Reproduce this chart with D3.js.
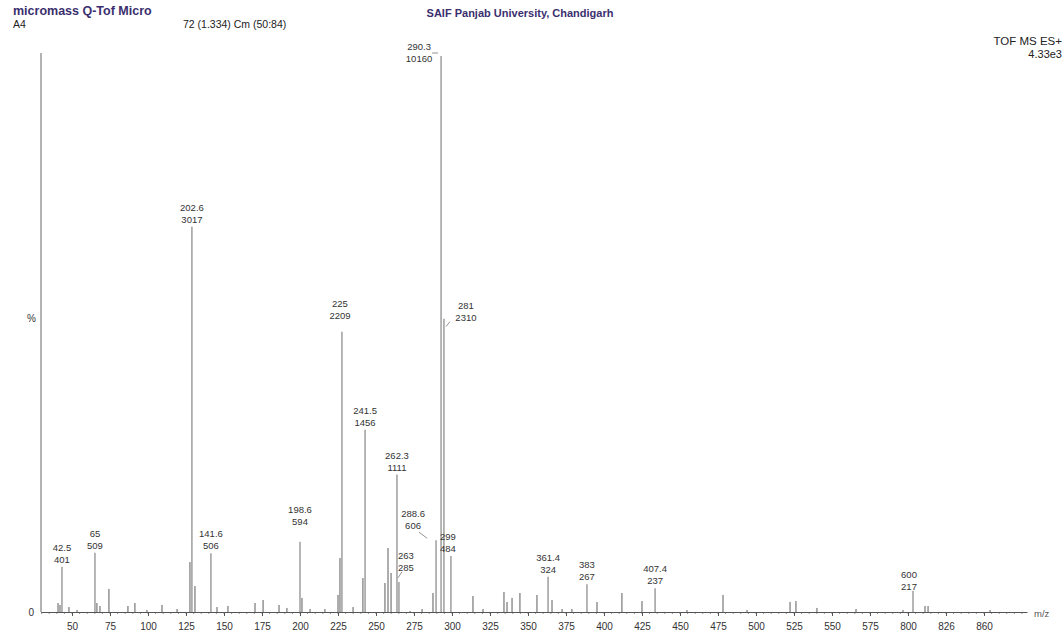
<!DOCTYPE html>
<html>
<head>
<meta charset="utf-8">
<script src="https://cdn.jsdelivr.net/npm/d3@7"></script>
<style>
	body { margin: 0; background: #fff; }
	svg { display: block; font-family: "Liberation Sans", Arial, sans-serif; }
</style>
</head>
<body>
<svg id="chart" width="1064" height="634"></svg>
<script>
/*********************
	Data
**********************/
// labelled peaks: position on the printed m/z axis, intensity (counts), printed label
var peakPos   = [43.4, 65.1, 128.9, 141.4, 200.0, 227.6, 242.8, 263.8, 265.1, 289.5, 292.8, 294.7, 299.3, 363.2, 388.8, 433.6, 603.3];
var peakInt   = [401, 509, 3017, 506, 594, 2209, 1456, 1111, 285, 606, 10160, 2310, 484, 324, 267, 237, 217];
var peakLabel = ["42.5", "65", "202.6", "141.6", "198.6", "225", "241.5", "262.3", "263", "288.6", "290.3", "281", "299", "361.4", "383", "407.4", "600"];

// small unlabelled peaks
var minorPos = [40.8, 42.1, 48.0, 53.3, 66.4, 68.4, 74.3, 86.8, 91.4, 99.3, 109.2, 119.1, 127.6, 130.9, 145.4, 152.6,
	170.4, 175.7, 186.2, 191.4, 201.3, 206.6, 216.4, 225.0, 226.3, 234.9, 241.4, 255.9, 257.9, 259.9, 272.4, 280.3,
	287.5, 313.8, 320.4, 334.2, 336.2, 339.5, 344.7, 355.9, 365.8, 372.4, 378.9, 395.4, 411.8, 425.0, 454.6, 478.3,
	494.1, 522.4, 526.3, 540.1, 565.8, 596.7, 611.2, 613.2, 654.0];
var minorInt = [123, 108, 92, 69, 123, 100, 231, 100, 123, 69, 108, 77, 438, 254, 92, 100,
	123, 146, 108, 85, 162, 77, 77, 185, 469, 92, 315, 277, 546, 354, 62, 77,
	200, 177, 77, 208, 131, 162, 200, 185, 146, 77, 77, 131, 200, 138, 69, 185,
	69, 131, 138, 85, 77, 69, 100, 100, 69];

var tickVals   = [50, 75, 100, 125, 150, 175, 200, 225, 250, 275, 300, 325, 350, 375, 400, 425, 450, 475, 500, 525, 550, 575, 600, 625, 650];
var tickLabels = ["50", "75", "100", "125", "150", "175", "200", "225", "250", "275", "300", "325", "350", "375", "400", "425", "450", "475", "500", "525", "550", "575", "800", "826", "860"];

var fullScale = 4330; // 4.33e3


/*********************
	Layout
**********************/
var svg = d3.select("#chart");
var baseY = 612;

var x = d3.scaleLinear().domain([29.6, 678.3]).range([41, 1027]);
var y = d3.scaleLinear().domain([0, fullScale]).range([619, 56]).clamp(true);

// labels that are not sat straight on top of their peak
var labelNudge = {
	"290.3": {dx: -22, dy: 10, lead: [-9, -3, -3, -3]},
	"281":   {dx: 22,  dy: 6,  lead: [6, 3, 2, 8]},
	"288.6": {dx: -23, dy: -7, lead: [-17, -8, -9, -2]},
	"263":   {dx: 7,   dy: -7, lead: [3, -10, -1, -4]},
	"299":   {dx: -3,  dy: 0},
	"198.6": {dx: 0,   dy: -13},
	"225":   {dx: -2,  dy: -9},
	"600":   {dx: -4,  dy: 3}
};


/*********************
	Header text
**********************/
svg.append("text").attr("x", 13).attr("y", 15)
	.style("font-size", "12.5px").style("font-weight", "bold").style("fill", "#3b2f6e")
	.text("micromass Q-Tof Micro");
svg.append("text").attr("x", 13).attr("y", 28)
	.style("font-size", "10.5px").style("fill", "#222").text("A4");
svg.append("text").attr("x", 183).attr("y", 28)
	.style("font-size", "10.5px").style("fill", "#222").text("72 (1.334) Cm (50:84)");
svg.append("text").attr("x", 520).attr("y", 17).attr("text-anchor", "middle")
	.style("font-size", "11px").style("font-weight", "bold").style("fill", "#3b2f6e")
	.text("SAIF Panjab University, Chandigarh");
svg.append("text").attr("x", 1062).attr("y", 45).attr("text-anchor", "end")
	.style("font-size", "11.5px").style("fill", "#222").text("TOF MS ES+");
svg.append("text").attr("x", 1062).attr("y", 58).attr("text-anchor", "end")
	.style("font-size", "11px").style("fill", "#222").text("4.33e3");


/*********************
	Axes
**********************/
// y axis: plain line with 0 and % marks
svg.append("line")
	.attr("x1", 41).attr("x2", 41).attr("y1", 53).attr("y2", baseY)
	.style("stroke", "#666").style("stroke-width", 1);
svg.append("text").attr("x", 34).attr("y", baseY + 4).attr("text-anchor", "end")
	.style("font-size", "10px").style("fill", "#333").text("0");
svg.append("text").attr("x", 36).attr("y", 322).attr("text-anchor", "end")
	.style("font-size", "10px").style("fill", "#333").text("%");

// minor ticks every 5
var minorTicks = d3.range(30, 676, 5);
svg.append("g").selectAll("line").data(minorTicks).enter().append("line")
	.attr("x1", function(d){ return x(d); }).attr("x2", function(d){ return x(d); })
	.attr("y1", baseY).attr("y2", baseY + 2)
	.style("stroke", "#777").style("stroke-width", 0.8);

var xAxis = d3.axisBottom(x)
	.tickValues(tickVals)
	.tickFormat(function(d, i){ return tickLabels[i]; })
	.tickSize(4)
	.tickSizeOuter(0);

var gx = svg.append("g").attr("transform", "translate(0," + baseY + ")").call(xAxis);
gx.select(".domain").style("stroke", "#555");
gx.selectAll(".tick line").style("stroke", "#555");
gx.selectAll(".tick text")
	.attr("y", 11)
	.style("font-family", "'Liberation Sans', Arial, sans-serif")
	.style("font-size", "10px").style("fill", "#333");

svg.append("text").attr("x", 1034).attr("y", 617)
	.style("font-size", "9.5px").style("fill", "#555").text("m/z");


/*********************
	Peaks
**********************/
var minorData = minorPos.map(function(p, i){ return {pos: p, inten: minorInt[i]}; });
svg.append("g").selectAll("line").data(minorData).enter().append("line")
	.attr("x1", function(d){ return x(d.pos); }).attr("x2", function(d){ return x(d.pos); })
	.attr("y1", baseY).attr("y2", function(d){ return y(d.inten); })
	.style("stroke", "#5c5c5c").style("stroke-width", 1);

var peakData = peakPos.map(function(p, i){ return {pos: p, inten: peakInt[i], label: peakLabel[i]}; });
svg.append("g").selectAll("line").data(peakData).enter().append("line")
	.attr("x1", function(d){ return x(d.pos); }).attr("x2", function(d){ return x(d.pos); })
	.attr("y1", baseY).attr("y2", function(d){ return y(d.inten); })
	.style("stroke", "#7a7a7a").style("stroke-width", 1.1);

// two line labels: m/z over intensity
var labels = svg.append("g").style("font-size", "9.5px").style("fill", "#333");
peakData.forEach(function(d){
	var px = x(d.pos), py = y(d.inten);
	var n = labelNudge[d.label] || {dx: 0, dy: 0};
	var lx = px + n.dx, ly = py - 16 + n.dy;
	labels.append("text").attr("x", lx).attr("y", ly).attr("text-anchor", "middle").text(d.label);
	labels.append("text").attr("x", lx).attr("y", ly + 12).attr("text-anchor", "middle").text(d.inten);
	if (n.lead) {
		svg.append("line")
			.attr("x1", px + n.lead[0]).attr("y1", py + n.lead[1])
			.attr("x2", px + n.lead[2]).attr("y2", py + n.lead[3])
			.style("stroke", "#777").style("stroke-width", 0.8);
	}
});
</script>
</body>
</html>
